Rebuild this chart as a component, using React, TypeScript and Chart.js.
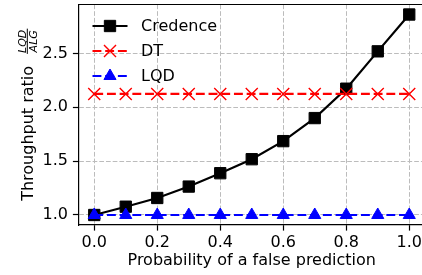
import React, { useEffect, useRef } from 'react';
import { Chart, registerables } from 'chart.js';
import { drawPoint } from 'chart.js/helpers';

Chart.register(...registerables);

const xValues = [0.0, 0.1, 0.2, 0.3, 0.4, 0.5, 0.6, 0.7, 0.8, 0.9, 1.0];
const credenceValues = [1.0, 1.077, 1.158, 1.264, 1.388, 1.518, 1.686, 1.9, 2.173, 2.52, 2.862];
const dtValues = [2.124, 2.124, 2.124, 2.124, 2.124, 2.124, 2.124, 2.124, 2.124, 2.124, 2.124];
const lqdValues = [1.0, 1.0, 1.0, 1.0, 1.0, 1.0, 1.0, 1.0, 1.0, 1.0, 1.0];
const seriesLabels = ['Credence', 'DT', 'LQD'];
const xTickValues = [0.0, 0.2, 0.4, 0.6, 0.8, 1.0];
const yTickValues = [1.0, 1.5, 2.0, 2.5];
const xRange = [-0.05, 1.05];
const yRange = [0.907, 2.955];
const xTitle = 'Probability of a false prediction';
const yTitle = 'Throughput ratio';
const yTitleNum = 'LQD';
const yTitleDen = 'ALG';

const FONT = "'DejaVu Sans', sans-serif";

const decorPlugin = {
  id: 'decor',
  afterDraw(chart: any) {
    const { ctx, chartArea } = chart;
    ctx.save();
    ctx.strokeStyle = '#000';
    ctx.lineWidth = 1.2;
    ctx.setLineDash([]);
    ctx.beginPath();
    ctx.moveTo(chartArea.left, chartArea.top);
    ctx.lineTo(chartArea.right, chartArea.top);
    ctx.stroke();

    chart.data.datasets.forEach((ds: any, i: number) => {
      const y = chartArea.top + 21.5 + i * 25;
      const x0 = chartArea.left + 14;
      const x1 = chartArea.left + 49;
      ctx.setLineDash(ds.borderDash || []);
      ctx.strokeStyle = ds.borderColor;
      ctx.lineWidth = ds.borderWidth;
      ctx.beginPath();
      ctx.moveTo(x0, y);
      ctx.lineTo(x1, y);
      ctx.stroke();
      ctx.setLineDash([]);
      ctx.fillStyle = ds.pointBackgroundColor;
      ctx.strokeStyle = ds.pointBorderColor;
      ctx.lineWidth = ds.pointBorderWidth;
      drawPoint(ctx, { pointStyle: ds.pointStyle, radius: ds.pointRadius, rotation: 0, borderWidth: ds.pointBorderWidth }, (x0 + x1) / 2, y);
      ctx.fillStyle = '#000';
      ctx.font = `16px ${FONT}`;
      ctx.textAlign = 'left';
      ctx.textBaseline = 'middle';
      ctx.fillText(ds.label, chartArea.left + 62.5, y + 1);
    });

    const cy = (chartArea.top + chartArea.bottom) / 2;
    ctx.font = `16px ${FONT}`;
    const w1 = ctx.measureText(yTitle).width;
    ctx.font = `italic 11px ${FONT}`;
    const wf = Math.max(ctx.measureText(yTitleNum).width, ctx.measureText(yTitleDen).width) + 2;
    const gap = 12;
    const total = w1 + gap + wf;
    const start = cy + total / 2;
    ctx.fillStyle = '#000';
    ctx.save();
    ctx.translate(33.4, start);
    ctx.rotate(-Math.PI / 2);
    ctx.font = `16px ${FONT}`;
    ctx.textAlign = 'left';
    ctx.textBaseline = 'alphabetic';
    ctx.fillText(yTitle, 0, 0);
    ctx.restore();

    const fc = start - w1 - gap - wf / 2;
    ctx.save();
    ctx.translate(27.3, fc);
    ctx.rotate(-Math.PI / 2);
    ctx.strokeStyle = '#000';
    ctx.lineWidth = 1;
    ctx.beginPath();
    ctx.moveTo(-wf / 2, 0);
    ctx.lineTo(wf / 2, 0);
    ctx.stroke();
    ctx.font = `italic 11px ${FONT}`;
    ctx.textAlign = 'center';
    ctx.textBaseline = 'alphabetic';
    ctx.fillText(yTitleNum, 0, -1.8);
    ctx.fillText(yTitleDen, 0, 9.4);
    ctx.restore();

    ctx.restore();
  },
};

export default function App() {
  const canvasRef = useRef<HTMLCanvasElement | null>(null);

  useEffect(() => {
    const canvas = canvasRef.current;
    if (!canvas) return;
    const mk = (vals: number[]) => xValues.map((x, i) => ({ x, y: vals[i] }));
    const lineDash = [8.9, 3.8];
    const gridOpts = {
      color: '#bcbcbc',
      lineWidth: 1,
      drawTicks: true,
      tickLength: 5.6,
      tickColor: '#000',
      tickWidth: 1.2,
      tickBorderDash: [],
    };
    const borderOpts = { display: true, color: '#000', width: 1.2, dash: [4.7, 2.0] };
    const chart = new Chart(canvas, {
      type: 'line',
      data: {
        datasets: [
          {
            label: seriesLabels[0],
            data: mk(credenceValues),
            borderColor: '#000000',
            backgroundColor: '#000000',
            borderWidth: 2.2,
            pointStyle: 'rect',
            pointRadius: 8,
            pointBackgroundColor: '#000000',
            pointBorderColor: '#000000',
            pointBorderWidth: 1,
            order: 3,
          },
          {
            label: seriesLabels[1],
            data: mk(dtValues),
            borderColor: '#ff0000',
            backgroundColor: '#ff0000',
            borderWidth: 2.2,
            borderDash: lineDash,
            pointStyle: 'crossRot',
            pointRadius: 8.5,
            pointBackgroundColor: '#ff0000',
            pointBorderColor: '#ff0000',
            pointBorderWidth: 1.4,
            order: 2,
          },
          {
            label: seriesLabels[2],
            data: mk(lqdValues),
            borderColor: '#0000ff',
            backgroundColor: '#0000ff',
            borderWidth: 2.2,
            borderDash: lineDash,
            pointStyle: 'triangle',
            pointRadius: 7,
            pointBackgroundColor: '#0000ff',
            pointBorderColor: '#0000ff',
            pointBorderWidth: 1,
            order: 1,
          },
        ],
      },
      options: {
        responsive: false,
        animation: false,
        events: [],
        layout: { autoPadding: false, padding: { top: 4.5, right: 7, left: 0, bottom: 0 } },
        plugins: { legend: { display: false }, tooltip: { enabled: false } },
        scales: {
          x: {
            type: 'linear',
            min: xRange[0],
            max: xRange[1],
            afterBuildTicks: (scale: any) => {
              scale.ticks = xTickValues.map((v) => ({ value: v }));
            },
            afterFit: (scale: any) => {
              scale.height = 50;
              scale.paddingLeft = 0;
              scale.paddingRight = 0;
            },
            ticks: {
              color: '#000',
              font: { family: FONT, size: 16 },
              padding: 3,
              maxRotation: 0,
              callback: (v: any) => Number(v).toFixed(1),
            },
            grid: gridOpts,
            border: borderOpts,
            title: {
              display: true,
              text: xTitle,
              color: '#000',
              font: { family: FONT, size: 16 },
              padding: { top: 0, bottom: 5 },
            },
          },
          y: {
            type: 'linear',
            min: yRange[0],
            max: yRange[1],
            afterBuildTicks: (scale: any) => {
              scale.ticks = yTickValues.map((v) => ({ value: v }));
            },
            afterFit: (scale: any) => {
              scale.width = 78.5;
              scale.paddingTop = 0;
              scale.paddingBottom = 0;
            },
            ticks: {
              color: '#000',
              font: { family: FONT, size: 16 },
              padding: 5,
              callback: (v: any) => Number(v).toFixed(1),
            },
            grid: gridOpts,
            border: borderOpts,
          },
        },
      },
      plugins: [decorPlugin],
    } as any);
    return () => chart.destroy();
  }, []);

  return (
    <canvas
      ref={canvasRef}
      width={432}
      height={275}
      style={{ position: 'fixed', left: 0, top: 0, display: 'block', width: 432, height: 275 }}
    />
  );
}
